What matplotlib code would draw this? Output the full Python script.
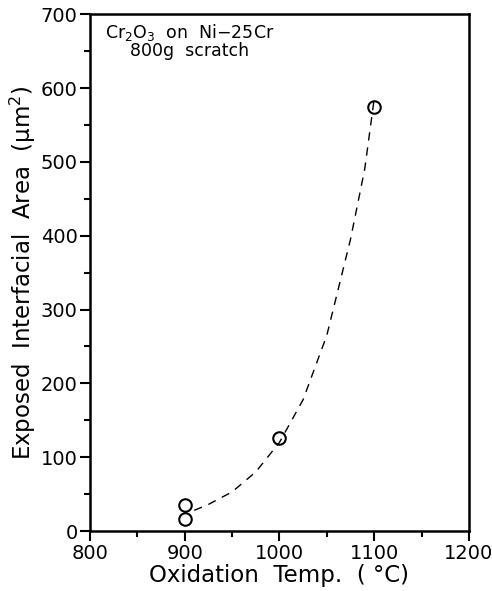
import matplotlib
matplotlib.use("Agg")
import matplotlib.pyplot as plt
from matplotlib.ticker import MultipleLocator

font = {'family': 'DejaVu Sans', 'weight': 'normal', 'size': 14}
matplotlib.rc('font', **font)

# measured points
temp = [900, 900, 1000, 1100]
area = [35, 16, 126, 574]

# dashed guide curve
fit_temp = [910, 925, 950, 975, 1000, 1025, 1050, 1075, 1090, 1100]
fit_area = [28, 36, 53, 80, 120, 178, 265, 395, 490, 585]

fig = plt.figure(figsize=(4.92, 5.91), dpi=100)
ax = fig.add_axes([0.183, 0.1015, 0.77, 0.8745])

ax.plot(fit_temp, fit_area, 'k--', lw=1.0, dashes=(6, 5))
ax.plot(temp, area, 'o', mfc='none', mec='k', ms=9, mew=1.5)

ax.set_xlim(800, 1200)
ax.set_ylim(0, 700)
ax.xaxis.set_major_locator(MultipleLocator(100))
ax.xaxis.set_minor_locator(MultipleLocator(50))
ax.yaxis.set_major_locator(MultipleLocator(100))
ax.yaxis.set_minor_locator(MultipleLocator(50))
ax.tick_params(which='major', direction='out', length=7, width=1.5, labelsize=14, pad=2)
ax.tick_params(which='minor', direction='out', length=4, width=1.5)
for s in ax.spines.values():
    s.set_linewidth(1.8)

ax.set_xlabel("Oxidation  Temp.  ( °C)", fontsize=16.5, labelpad=1)
ax.set_ylabel("Exposed  Interfacial  Area  (μm$^2$)", fontsize=16.5, labelpad=2)

ax.text(0.263, 0.985, "Cr$_2$O$_3$  on  Ni−25Cr\n800g  scratch", transform=ax.transAxes,
        ha='center', va='top', fontsize=12.5, linespacing=0.9)

plt.savefig("out.png", dpi=100)
